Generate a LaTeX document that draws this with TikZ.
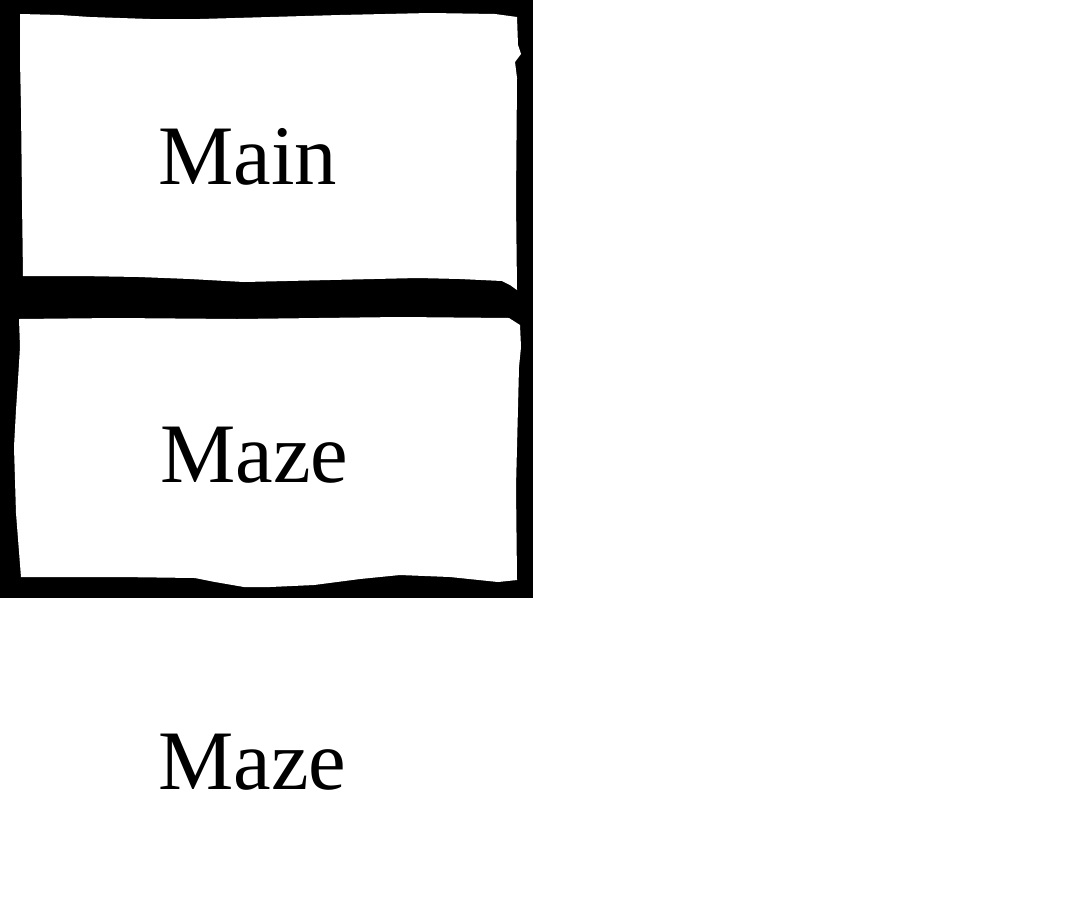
\documentclass[tikz,border=0pt]{standalone}
\usepackage{fontspec}
\setmainfont{Liberation Serif}
\begin{document}
\begin{tikzpicture}[x=0.75pt,y=-0.75pt,
  frame/.style={fill=black},
  hole/.style={fill=white},
  label/.style={inner sep=0pt,anchor=base west,font=\fontsize{63.5}{63.5}\selectfont}]
\useasboundingbox (0,0) rectangle (1066,900);
% thick hand-drawn frame of the two stacked boxes
\fill[frame] (0,0) rectangle (533,598);
\fill[hole] (20,14) -- (60,15) -- (90,17) -- (150,19) -- (200,19) -- (270,17) -- (340,15)
  -- (430,13) -- (495,14) -- (517,17)
  -- (518,45) -- (521,54) -- (515,62) -- (517,78) -- (516,200) -- (517,290)
  -- (510,285) -- (502,281) -- (460,279) -- (418,278) -- (330,280) -- (244,282)
  -- (190,279) -- (139,277) -- (80,276) -- (23,276)
  -- (22,200) -- (21,108) -- (20,60) -- cycle;
\fill[hole] (19,319) -- (115,318) -- (237,319) -- (400,317) -- (509,318) -- (520,325)
  -- (521,347) -- (519,367) -- (517,447) -- (516,487) -- (517,580)
  -- (498,582) -- (450,577) -- (400,575) -- (360,579) -- (314,585) -- (270,587)
  -- (244,587) -- (215,582) -- (195,578) -- (120,577) -- (21,577)
  -- (16,513) -- (14,447) -- (16,410) -- (18,380) -- (20,347) -- cycle;
\node[label] (main) at (158,184) {Main};
\node[label] (maze) at (160,482) {Maze};
\node[label] (maze2) at (158,789) {Maze};
\end{tikzpicture}
\end{document}
